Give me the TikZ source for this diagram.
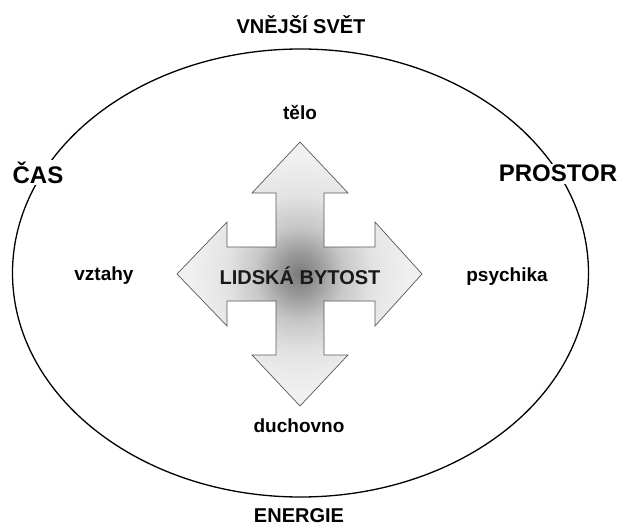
\documentclass[tikz,border=0pt]{standalone}
\usepackage{fontspec}
\setmainfont{Liberation Sans}
\pgfdeclareradialshading{crossshade}{\pgfpoint{0bp}{0bp}}{%
  color(0bp)=(black!52);
  color(4bp)=(black!40);
  color(9bp)=(black!22);
  color(15bp)=(black!11);
  color(22bp)=(black!6);
  color(32bp)=(black!4);
  color(50bp)=(black!3)}
\tikzset{
  bigcap/.style={font=\bfseries\fontsize{24}{28}\selectfont, anchor=base, inner sep=1.5pt},
  midcap/.style={font=\bfseries\fontsize{20}{24}\selectfont, anchor=base, inner sep=1pt},
  lowlab/.style={font=\bfseries\fontsize{19}{23}\selectfont, anchor=base, inner sep=1pt},
  world/.style={line width=1.3pt, draw=black},
  crossline/.style={draw=black!65, line width=0.7pt, line join=miter}
}
\begin{document}
\begin{tikzpicture}[x=1pt,y=-1pt]
\useasboundingbox (0,0) rectangle (622,527);
\fill[white] (0,0) rectangle (622,527);
% outer world
\draw[world] (300.5,273) ellipse [x radius=288, y radius=224];
% cross of arrows
\path[shading=crossshade, crossline]
  (276,193) -- (252,193) -- (300,142) -- (348,193) -- (324,193) -- (324,247)
  -- (375,247) -- (375,222) -- (422,274) -- (375,326) -- (375,301) -- (324,301)
  -- (324,355) -- (348,355) -- (300,406) -- (252,355) -- (276,355) -- (276,301)
  -- (227,301) -- (227,326) -- (177,274) -- (227,222) -- (227,247) -- (276,247)
  -- cycle;
\node[midcap, text=black!90] (being) at (300,284) {LIDSKÁ BYTOST};
% outer labels
\node[midcap] (world) at (301,34) {VNĚJŠÍ SVĚT};
\node[midcap] (energy) at (299,522) {ENERGIE};
\node[bigcap, fill=white] (time) at (38,183) {ČAS};
\node[bigcap, fill=white] (space) at (558,182) {PROSTOR};
% inner labels
\node[lowlab] (body) at (300,120) {tělo};
\node[lowlab] (spirit) at (299,432) {duchovno};
\node[lowlab] (rel) at (104,280) {vztahy};
\node[lowlab] (psyche) at (507,281) {psychika};
\end{tikzpicture}
\end{document}
